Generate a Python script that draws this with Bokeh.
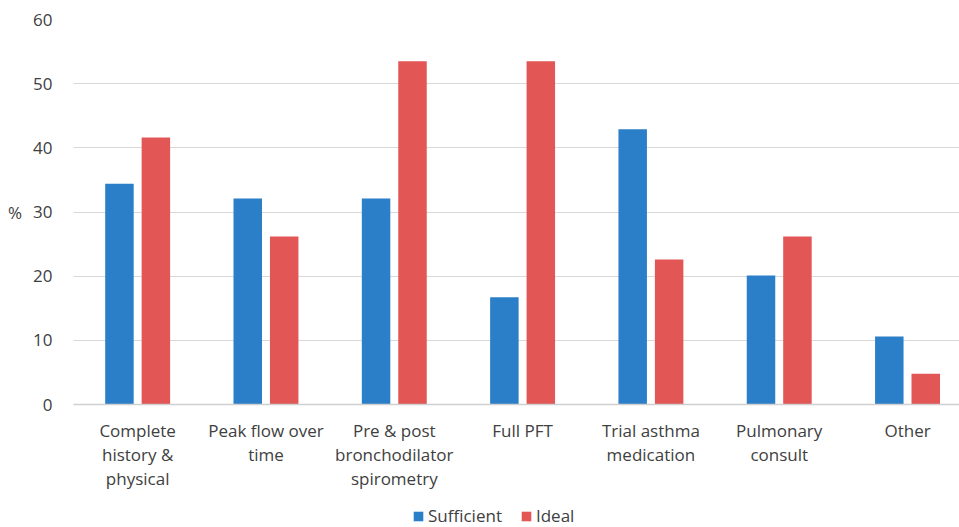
from bokeh.plotting import figure
from bokeh.models import ColumnDataSource, Legend, LegendItem, Range1d, FixedTicker
from bokeh.layouts import column
from bokeh.embed import file_html
from bokeh.resources import INLINE

categories = ["Complete\nhistory &\nphysical", "Peak flow over\ntime", "Pre & post\nbronchodilator\nspirometry",
              "Full PFT", "Trial asthma\nmedication", "Pulmonary\nconsult", "Other"]
sufficient = [34.4, 32.1, 32.1, 16.7, 42.9, 20.1, 10.6]
ideal = [41.6, 26.2, 53.5, 53.5, 22.6, 26.2, 4.8]
y_ticks = [0, 10, 20, 30, 40, 50, 60]
series_names = ["Sufficient", "Ideal"]

FONT = "Open Sans"
BLUE = "#2A7FC8"
RED = "#E25656"

xpos = [i + 0.5 for i in range(len(categories))]
src = ColumnDataSource(dict(x=xpos, xs=[v - 0.142 for v in xpos], xi=[v + 0.142 for v in xpos],
                            s=sufficient, i=ideal))

p = figure(width=959, height=495, x_range=Range1d(0, 6.905),
           y_range=Range1d(0, 60), output_backend="svg", toolbar_location=None,
           min_border_left=73, min_border_right=0, min_border_top=19, min_border_bottom=91)
p.outline_line_color = None

rs = p.vbar(x="xs", top="s", width=0.222, source=src, fill_color=BLUE, line_color=None)
ri = p.vbar(x="xi", top="i", width=0.222, source=src, fill_color=RED, line_color=None)

p.yaxis.ticker = FixedTicker(ticks=y_ticks)
p.ygrid.grid_line_color = "#D9D9D9"
p.ygrid.grid_line_width = 1
p.xgrid.grid_line_color = None

p.yaxis.axis_line_color = None
p.yaxis.major_tick_line_color = None
p.yaxis.minor_tick_line_color = None
p.yaxis.major_label_text_font = FONT
p.yaxis.major_label_text_font_size = "17px"
p.yaxis.major_label_text_color = "#404040"
p.yaxis.major_label_standoff = 15
p.yaxis.axis_label = "%"
p.yaxis.axis_label_orientation = "horizontal"
p.yaxis.axis_label_text_font = FONT
p.yaxis.axis_label_text_font_style = "normal"
p.yaxis.axis_label_text_font_size = "17px"
p.yaxis.axis_label_text_color = "#404040"
p.yaxis.axis_label_standoff = 8

p.xaxis.ticker = FixedTicker(ticks=xpos)
p.xaxis.major_label_overrides = {x: c for x, c in zip(xpos, categories)}
p.xaxis.axis_line_color = "#D0D0D0"
p.xaxis.axis_line_width = 1.5
p.xaxis.major_tick_line_color = None
p.xaxis.minor_tick_line_color = None
p.xaxis.major_label_text_font = FONT
p.xaxis.major_label_text_font_size = "17px"
p.xaxis.major_label_text_color = "#404040"
p.xaxis.major_label_standoff = 8
p.xaxis.major_label_text_line_height = 1.05

# legend strip (frame aligned with the main plot's frame by the column layout)
lg = figure(width=959, height=32, x_range=Range1d(0, 1), y_range=Range1d(0, 1),
            output_backend="svg", toolbar_location=None, min_border=0)
lg.outline_line_color = None
lg.axis.visible = False
lg.grid.visible = False
ls = lg.vbar(x=[50], top=[1], width=0.1, fill_color=BLUE, line_color=None)
li = lg.vbar(x=[50], top=[1], width=0.1, fill_color=RED, line_color=None)
legend = Legend(items=[LegendItem(label=series_names[0], renderers=[ls]),
                       LegendItem(label=series_names[1], renderers=[li])],
                orientation="horizontal", location=(339, 0),
                label_text_font=FONT, label_text_font_size="17px", label_text_color="#404040",
                glyph_width=12, glyph_height=12, label_standoff=4, spacing=18,
                background_fill_alpha=0, border_line_color=None, padding=0, margin=0)
lg.add_layout(legend, "center")

layout = column(p, lg, spacing=0)
open("out.html", "w").write(file_html(layout, INLINE))
